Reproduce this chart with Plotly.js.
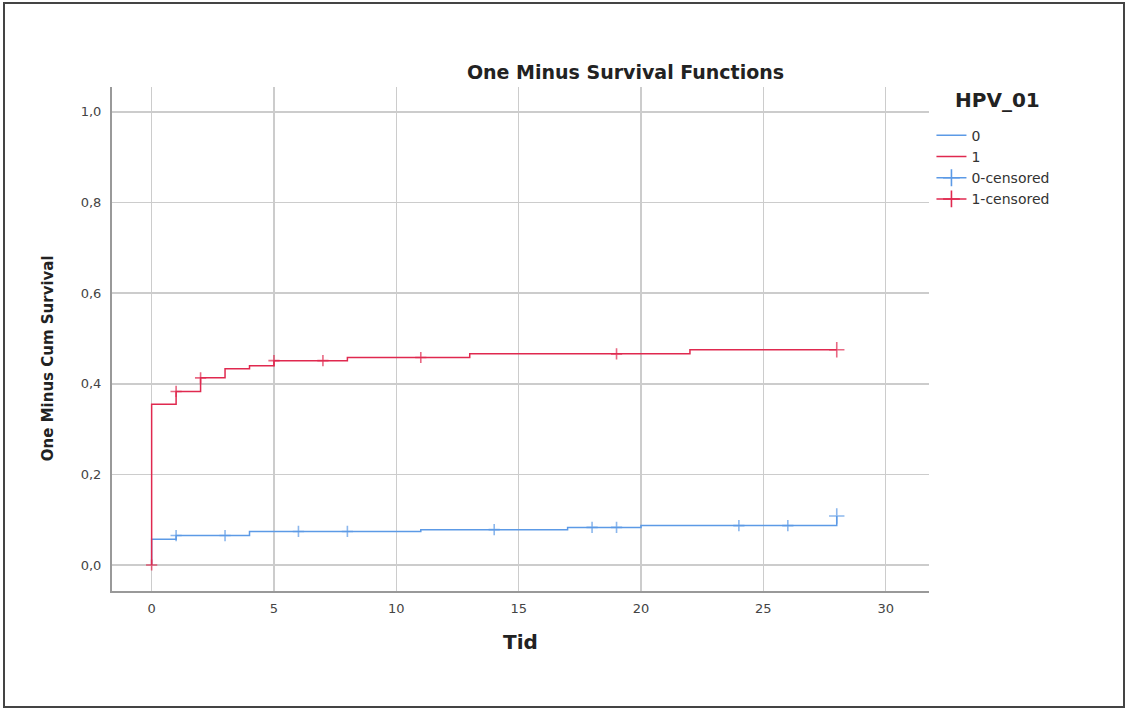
<!DOCTYPE html>
<html>
<head>
<meta charset="utf-8">
<script src="https://cdn.plot.ly/plotly-3.0.1.min.js"></script>
<style>
html,body{margin:0;padding:0;background:#fff;}
#wrap{position:relative;width:1125px;height:708px;}
#chart{width:1125px;height:708px;}
#frame{position:absolute;left:3px;top:2px;width:1118px;height:702px;border:2px solid #444;pointer-events:none;}
</style>
</head>
<body>
<div id="wrap"><div id="chart"></div><div id="frame"></div></div>
<script>
// Group 1 (HPV_01 = 1) step function: time and one-minus-survival
const timeRed = [0, 0, 1, 2, 3, 4, 5, 8, 13, 22, 28];
const valRed  = [0, 0.355, 0.383, 0.413, 0.433, 0.440, 0.451, 0.458, 0.466, 0.475, 0.475];
// Group 0 (HPV_01 = 0)
const timeBlue = [0, 0, 1, 4, 11, 17, 20, 28];
const valBlue  = [0, 0.057, 0.065, 0.074, 0.078, 0.083, 0.087, 0.108];
// Censored observations
const censTimeRed = [0, 1, 2, 5, 7, 11, 19, 28];
const censValRed  = [0, 0.383, 0.413, 0.451, 0.451, 0.458, 0.466, 0.475];
const censTimeBlue = [1, 3, 6, 8, 14, 18, 19, 24, 26, 28];
const censValBlue  = [0.065, 0.065, 0.074, 0.074, 0.078, 0.083, 0.083, 0.087, 0.087, 0.108];
const xTicks = [0, 5, 10, 15, 20, 25, 30];
const yTicks = [0, 0.2, 0.4, 0.6, 0.8, 1.0];
const groupNames = ['0', '1'];

const BLUE = '#5c9ae6';
const RED = '#e0294f';
const FONT = 'DejaVu Sans, Liberation Sans, Arial, sans-serif';

// last censored mark (several observations at end of follow-up) drawn a bit heavier
const sizesFor = arr => arr.map((t, i) => i === arr.length - 1 ? 11 : 8);

const traces = [
  {x: timeBlue, y: valBlue, name: groupNames[0], mode: 'lines', line: {shape: 'hv', color: BLUE, width: 1.5}, hoverinfo: 'skip'},
  {x: timeRed, y: valRed, name: groupNames[1], mode: 'lines', line: {shape: 'hv', color: RED, width: 1.5}, hoverinfo: 'skip'},
  {x: censTimeBlue, y: censValBlue, name: groupNames[0] + '-censored', mode: 'markers', showlegend: false,
   marker: {symbol: 'cross-thin', size: sizesFor(censTimeBlue), color: BLUE, line: {color: BLUE, width: 1.6}}},
  {x: censTimeRed, y: censValRed, name: groupNames[1] + '-censored', mode: 'markers', showlegend: false,
   marker: {symbol: 'cross-thin', size: sizesFor(censTimeRed), color: RED, line: {color: RED, width: 1.6}}},
  // legend-only entries (line with a cross, as in the original legend)
  {x: [null], y: [null], name: groupNames[0] + '-censored', mode: 'lines+markers',
   line: {color: BLUE, width: 1.5}, marker: {symbol: 'cross-thin', size: 12, color: BLUE, line: {color: BLUE, width: 1.6}}},
  {x: [null], y: [null], name: groupNames[1] + '-censored', mode: 'lines+markers',
   line: {color: RED, width: 1.5}, marker: {symbol: 'cross-thin', size: 12, color: RED, line: {color: RED, width: 1.6}}}
];

const layout = {
  width: 1125, height: 708,
  paper_bgcolor: '#fff', plot_bgcolor: '#fff',
  margin: {l: 112, r: 196, t: 87, b: 117},
  separators: ', ',
  font: {family: FONT, color: '#333', size: 12},
  title: {text: '<b>One Minus Survival Functions</b>', x: 0.556, xref: 'container', y: 0.898, yref: 'container', yanchor: 'middle', font: {family: FONT, size: 19, color: '#222'}},
  xaxis: {
    range: [-1.62, 31.77], tickvals: xTicks, tickformat: 'd',
    showgrid: true, gridcolor: '#cccccc', gridwidth: 1.5,
    showline: true, linecolor: '#999', linewidth: 2, zeroline: false,
    ticks: 'outside', ticklen: 4, tickcolor: 'rgba(0,0,0,0)', tickfont: {size: 13, color: '#444'},
    title: {text: '<b>Tid</b>', font: {size: 20, color: '#222'}, standoff: 20}
  },
  yaxis: {
    range: [-0.0574, 1.055], tickvals: yTicks, tickformat: '.1f',
    showgrid: true, gridcolor: '#cccccc', gridwidth: 1.5,
    showline: true, linecolor: '#999', linewidth: 2, zeroline: false,
    ticks: 'outside', ticklen: 6, tickcolor: 'rgba(0,0,0,0)', tickfont: {size: 13, color: '#444'}
  },
  legend: {
    x: 1.003, xanchor: 'left', y: 0.935, yanchor: 'top',
    font: {family: FONT, size: 14, color: '#333'},
    tracegroupgap: 0, itemwidth: 30, bgcolor: 'rgba(0,0,0,0)'
  },
  annotations: [
    {text: '<b>HPV_01</b>', xref: 'paper', yref: 'paper', x: 1.029, y: 0.974,
     xanchor: 'left', yanchor: 'middle', showarrow: false,
     font: {family: FONT, size: 20, color: '#222'}},
    {text: '<b>One Minus Cum Survival</b>', xref: 'paper', yref: 'paper', x: -0.0783, y: 0.462,
     xanchor: 'center', yanchor: 'middle', textangle: -90, showarrow: false,
     font: {family: FONT, size: 15, color: '#222'}}
  ],
  showlegend: true
};

Plotly.newPlot('chart', traces, layout, {displayModeBar: false, staticPlot: true});
</script>
</body>
</html>
